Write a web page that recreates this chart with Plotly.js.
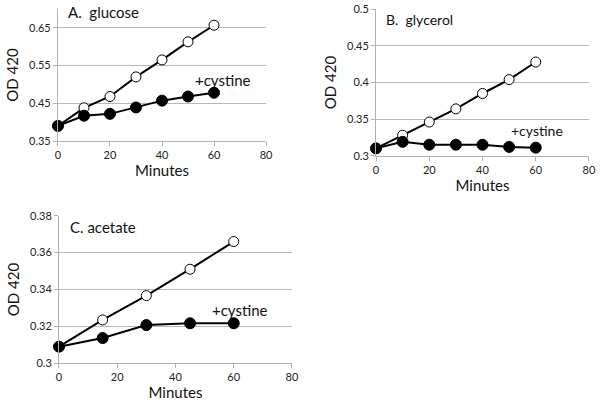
<!DOCTYPE html>
<html>
<head>
<meta charset="utf-8">
<script src="https://cdn.plot.ly/plotly-3.0.1.min.js"></script>
<style>html,body{margin:0;padding:0;background:#fff;} #chart{width:602px;height:406px;}</style>
</head>
<body>
<div id="chart"></div>
<script>
// Panel A: glucose
const glucoseMinutes = [0, 10, 20, 30, 40, 50, 60];
const glucoseControl = [0.390, 0.438, 0.468, 0.520, 0.565, 0.613, 0.657];
const glucoseCystine = [0.390, 0.417, 0.422, 0.439, 0.457, 0.468, 0.478];
// Panel B: glycerol
const glycerolMinutes = [0, 10, 20, 30, 40, 50, 60];
const glycerolControl = [0.310, 0.328, 0.346, 0.364, 0.385, 0.404, 0.428];
const glycerolCystine = [0.310, 0.319, 0.315, 0.315, 0.315, 0.312, 0.311];
// Panel C: acetate
const acetateMinutes = [0, 15, 30, 45, 60];
const acetateControl = [0.309, 0.3235, 0.3367, 0.351, 0.366];
const acetateCystine = [0.309, 0.3137, 0.3207, 0.3217, 0.3217];

const panelLabels = ["A.  glucose", "B.  glycerol", "C. acetate"];
const seriesLabel = "+cystine";
const xTitle = "Minutes";
const yTitle = "OD 420";

const FONT = "Lato, 'Open Sans', sans-serif";

function openTrace(x, y, xa, ya) {
  return {x: x, y: y, xaxis: xa, yaxis: ya, type: 'scatter', mode: 'lines+markers',
    line: {color: '#000', width: 2},
    marker: {symbol: 'circle', size: 10, color: '#fff', line: {color: '#000', width: 1}},
    showlegend: false, hoverinfo: 'skip', cliponaxis: false};
}
function filledTrace(x, y, xa, ya) {
  return {x: x, y: y, xaxis: xa, yaxis: ya, type: 'scatter', mode: 'lines+markers',
    line: {color: '#000', width: 2},
    marker: {symbol: 'circle', size: 11, color: '#000', line: {color: '#000', width: 1}},
    showlegend: false, hoverinfo: 'skip', cliponaxis: false};
}

const data = [
  openTrace(glucoseMinutes, glucoseControl, 'x', 'y'),
  filledTrace(glucoseMinutes, glucoseCystine, 'x', 'y'),
  openTrace(glycerolMinutes, glycerolControl, 'x2', 'y2'),
  filledTrace(glycerolMinutes, glycerolCystine, 'x2', 'y2'),
  openTrace(acetateMinutes, acetateControl, 'x3', 'y3'),
  filledTrace(acetateMinutes, acetateCystine, 'x3', 'y3')
];

function xaxis(domain, anchor) {
  return {domain: domain, anchor: anchor, range: [0, 80], tick0: 0, dtick: 20,
    showgrid: false, zeroline: false, showline: true, linecolor: '#b0b0b0', linewidth: 1,
    ticks: 'outside', ticklen: 4, tickcolor: '#b0b0b0',
    tickfont: {family: FONT, size: 11, color: '#222'},
    title: {text: xTitle, font: {family: FONT, size: 15, color: '#111'}, standoff: 2},
    automargin: false, fixedrange: true};
}
function yaxis(domain, anchor, range, tick0, dtick) {
  return {domain: domain, anchor: anchor, range: range, tick0: tick0, dtick: dtick,
    showgrid: true, gridcolor: '#b8b8b8', gridwidth: 1, zeroline: false,
    showline: true, linecolor: '#b0b0b0', linewidth: 1,
    ticks: 'outside', ticklen: 4, tickcolor: '#b0b0b0',
    tickfont: {family: FONT, size: 11, color: '#222'},
    title: {text: yTitle, font: {family: FONT, size: 15, color: '#111'}, standoff: 6},
    automargin: false, fixedrange: true};
}

const layout = {
  width: 602, height: 406,
  margin: {l: 0, r: 0, t: 0, b: 0},
  paper_bgcolor: '#fff', plot_bgcolor: '#fff',
  xaxis: xaxis([0.0963, 0.4419], 'y'),
  yaxis: yaxis([0.6527, 0.9778], 'x', [0.35, 0.70], 0.35, 0.1),
  xaxis2: xaxis([0.6246, 0.9784], 'y2'),
  yaxis2: yaxis([0.6165, 0.977], 'x2', [0.3, 0.5], 0.3, 0.05),
  xaxis3: xaxis([0.098, 0.485], 'y3'),
  yaxis3: yaxis([0.1052, 0.4687], 'x3', [0.3, 0.38], 0.3, 0.02),
  annotations: [
    {xref: 'x', yref: 'y', x: 3, y: 0.692, text: panelLabels[0], showarrow: false, xanchor: 'left', yanchor: 'middle', font: {family: FONT, size: 15, color: '#111'}},
    {xref: 'x', yref: 'y', x: 52, y: 0.512, text: seriesLabel, showarrow: false, xanchor: 'left', yanchor: 'middle', font: {family: FONT, size: 15, color: '#111'}},
    {xref: 'x2', yref: 'y2', x: 3, y: 0.486, text: panelLabels[1], showarrow: false, xanchor: 'left', yanchor: 'middle', font: {family: FONT, size: 14, color: '#111'}},
    {xref: 'x2', yref: 'y2', x: 50, y: 0.335, text: seriesLabel, showarrow: false, xanchor: 'left', yanchor: 'middle', font: {family: FONT, size: 14, color: '#111'}},
    {xref: 'x3', yref: 'y3', x: 3, y: 0.374, text: panelLabels[2], showarrow: false, xanchor: 'left', yanchor: 'middle', font: {family: FONT, size: 15, color: '#111'}},
    {xref: 'x3', yref: 'y3', x: 52, y: 0.3289, text: seriesLabel, showarrow: false, xanchor: 'left', yanchor: 'middle', font: {family: FONT, size: 15, color: '#111'}}
  ]
};

Plotly.newPlot('chart', data, layout, {staticPlot: true, displayModeBar: false});
</script>
</body>
</html>
